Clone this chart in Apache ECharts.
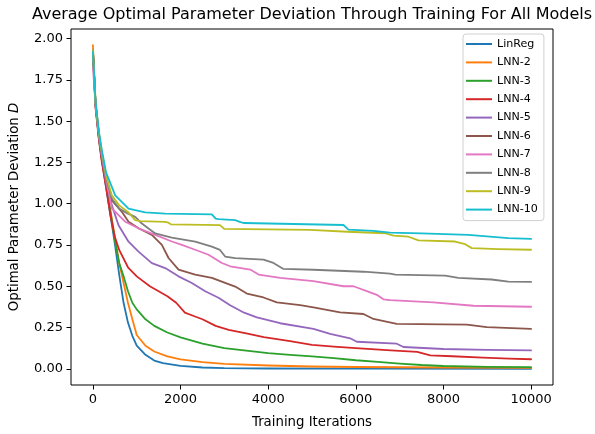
<!DOCTYPE html>
<html>
<head>
<meta charset="utf-8">
<script src="https://cdn.jsdelivr.net/npm/echarts@6/dist/echarts.min.js"></script>
<style>
    html, body { margin: 0; padding: 0; background: #fff; }
    #chart { width: 595px; height: 434px; }
</style>
</head>
<body>
<div id="chart"></div>
<script>
// 模型名称
var names = ['LinReg', 'LNN-2', 'LNN-3', 'LNN-4', 'LNN-5', 'LNN-6', 'LNN-7', 'LNN-8', 'LNN-9', 'LNN-10'];
var colors = ['#1f77b4', '#ff7f0e', '#2ca02c', '#d62728', '#9467bd', '#8c564b', '#e377c2', '#7f7f7f', '#bcbd22', '#17becf'];

// 刻度
var xTicks = [0, 2000, 4000, 6000, 8000, 10000];
var yTicks = [0, 0.25, 0.5, 0.75, 1.0, 1.25, 1.5, 1.75, 2.0];

// 每条曲线 [迭代次数, 偏差]
var linReg = [[0, 1.93], [60, 1.6], [140, 1.39], [200, 1.27], [300, 1.1], [400, 0.93], [500, 0.76], [600, 0.57],
    [700, 0.4], [800, 0.28], [900, 0.2], [1000, 0.14], [1200, 0.085], [1400, 0.05], [1600, 0.035], [2000, 0.018],
    [2500, 0.008], [3000, 0.004], [4000, 0.002], [6000, 0.001], [10000, 0]];
var lnn2 = [[0, 1.96], [60, 1.62], [140, 1.41], [200, 1.29], [300, 1.12], [400, 0.96], [500, 0.8], [600, 0.64],
    [700, 0.52], [800, 0.4], [900, 0.3], [1000, 0.205], [1200, 0.14], [1400, 0.105], [1700, 0.075], [2000, 0.057],
    [2500, 0.04], [3000, 0.03], [4000, 0.02], [5000, 0.014], [6000, 0.011], [8000, 0.008], [10000, 0.006]];
var lnn3 = [[0, 1.93], [60, 1.6], [140, 1.39], [200, 1.28], [300, 1.12], [400, 0.95], [500, 0.78], [600, 0.64],
    [700, 0.56], [800, 0.47], [900, 0.4], [1000, 0.36], [1200, 0.3], [1400, 0.26], [1700, 0.22], [2000, 0.19],
    [2500, 0.152], [3000, 0.125], [3500, 0.11], [4000, 0.095], [4500, 0.085], [5000, 0.075], [5500, 0.065],
    [6000, 0.052], [6500, 0.042], [7000, 0.032], [7500, 0.023], [8000, 0.017], [9000, 0.012], [10000, 0.01]];
var lnn4 = [[0, 1.92], [60, 1.58], [140, 1.38], [200, 1.26], [300, 1.1], [400, 0.93], [500, 0.8], [600, 0.72],
    [800, 0.615], [1000, 0.56], [1300, 0.5], [1700, 0.44], [1900, 0.4], [2100, 0.34], [2300, 0.32], [2500, 0.3],
    [2800, 0.26], [3100, 0.236], [3500, 0.215], [3900, 0.192], [4500, 0.168], [5000, 0.145], [5500, 0.135],
    [6000, 0.125], [6800, 0.112], [7400, 0.102], [7700, 0.082], [8200, 0.076], [8900, 0.068], [9500, 0.062], [10000, 0.058]];
var lnn5 = [[0, 1.93], [60, 1.6], [140, 1.4], [200, 1.29], [300, 1.13], [433, 0.99], [585, 0.87], [813, 0.77],
    [1041, 0.71], [1345, 0.64], [1650, 0.61], [1954, 0.56], [2258, 0.52], [2562, 0.47], [2866, 0.43], [3132, 0.385],
    [3450, 0.34], [3742, 0.312], [4273, 0.276], [5033, 0.242], [5414, 0.212], [5870, 0.185], [6023, 0.164],
    [6935, 0.152], [7087, 0.132], [8000, 0.12], [9000, 0.115], [10000, 0.112]];
var lnn6 = [[0, 1.92], [60, 1.6], [140, 1.41], [200, 1.3], [300, 1.15], [433, 1.02], [661, 0.951], [813, 0.891],
    [1041, 0.851], [1345, 0.811], [1574, 0.751], [1726, 0.671], [1954, 0.601], [2334, 0.571], [2715, 0.551],
    [3018, 0.521], [3247, 0.498], [3513, 0.456], [3893, 0.432], [4197, 0.402], [4730, 0.386], [5033, 0.372],
    [5642, 0.342], [6174, 0.332], [6402, 0.302], [6935, 0.272], [8533, 0.268], [8990, 0.252], [10000, 0.242]];
var lnn7 = [[0, 1.83], [60, 1.6], [140, 1.41], [200, 1.3], [300, 1.15], [433, 0.971], [737, 0.891], [1041, 0.851],
    [1421, 0.811], [1802, 0.771], [2030, 0.751], [2334, 0.721], [2638, 0.691], [2943, 0.641], [3132, 0.621],
    [3590, 0.601], [3780, 0.571], [4273, 0.551], [5033, 0.531], [5718, 0.5], [5946, 0.5], [6250, 0.471],
    [6480, 0.448], [6630, 0.421], [6783, 0.416], [7770, 0.402], [8684, 0.382], [10000, 0.376]];
var lnn8 = [[0, 1.92], [60, 1.6], [140, 1.42], [200, 1.31], [300, 1.16], [433, 1.03], [600, 0.97], [800, 0.94],
    [965, 0.92], [1117, 0.88], [1421, 0.82], [1800, 0.795], [2334, 0.77], [2715, 0.74], [2900, 0.72], [3018, 0.68],
    [3245, 0.67], [3893, 0.661], [4120, 0.641], [4349, 0.605], [5033, 0.6], [6174, 0.588], [6780, 0.576],
    [6900, 0.571], [8040, 0.565], [8340, 0.551], [9100, 0.541], [9480, 0.528], [10000, 0.526]];
var lnn9 = [[0, 1.93], [60, 1.61], [140, 1.42], [200, 1.32], [300, 1.17], [433, 1.05], [600, 0.99], [800, 0.95],
    [965, 0.9], [1080, 0.895], [1650, 0.89], [1720, 0.885], [1780, 0.875], [2900, 0.87], [3000, 0.847],
    [4960, 0.841], [5800, 0.83], [6670, 0.821], [6860, 0.807], [7200, 0.8], [7430, 0.778], [8266, 0.771],
    [8494, 0.755], [8647, 0.731], [9254, 0.725], [10000, 0.721]];
var lnn10 = [[0, 1.92], [60, 1.62], [140, 1.43], [200, 1.33], [300, 1.19], [509, 1.05], [813, 0.97], [1193, 0.947],
    [1650, 0.94], [2715, 0.935], [2800, 0.91], [2866, 0.907], [3245, 0.9], [3350, 0.89], [3450, 0.883],
    [5718, 0.871], [5832, 0.843], [6400, 0.835], [6780, 0.825], [7500, 0.82], [8570, 0.811], [9480, 0.791], [10000, 0.787]];

var allData = [linReg, lnn2, lnn3, lnn4, lnn5, lnn6, lnn7, lnn8, lnn9, lnn10];

(function () {
    var myChart = echarts.init(document.getElementById('chart'));
    var font = 'DejaVu Sans';

    var series = [];
    for (var i = 0; i < names.length; i++) {
        series.push({
            name: names[i],
            type: 'line',
            data: allData[i],
            showSymbol: false,
            symbol: 'none',
            lineStyle: { width: 1.8, color: colors[i], join: 'round', cap: 'round' },
            itemStyle: { color: colors[i] },
            animation: false
        });
    }

    var option = {
        color: colors,
        animation: false,
        textStyle: { fontFamily: font },
        title: {
            text: 'Average Optimal Parameter Deviation Through Training For All Models',
            left: 307,
            textAlign: 'center',
            top: 2,
            textStyle: { fontFamily: font, fontSize: 16, fontWeight: 'normal', color: '#000' }
        },
        grid: {
            left: 70, right: 42, top: 29, bottom: 45,
            show: true, borderColor: '#000', borderWidth: 1, backgroundColor: '#fff'
        },
        legend: {
            data: names,
            orient: 'vertical',
            left: 463, top: 34,
            icon: 'rect',
            itemWidth: 26, itemHeight: 2,
            itemGap: 4.4,
            padding: [3, 6, 4, 3],
            backgroundColor: '#fff',
            borderColor: '#d0d0d0', borderWidth: 1, borderRadius: 3,
            textStyle: { fontFamily: font, fontSize: 11.1, color: '#000', lineHeight: 14 }
        },
        xAxis: {
            type: 'value',
            min: -500, max: 10500,
            name: 'Training Iterations',
            nameLocation: 'middle',
            nameGap: 31,
            nameTextStyle: { fontFamily: font, fontSize: 13.3, color: '#000' },
            axisLine: { show: false, onZero: false },
            axisTick: { show: true, inside: false, length: 4.5, lineStyle: { color: '#000' }, customValues: xTicks },
            axisLabel: {
                customValues: xTicks, fontSize: 13, color: '#000', margin: 8,
                formatter: function (v) { return String(v); }
            },
            splitLine: { show: false }
        },
        yAxis: {
            type: 'value',
            min: -0.098, max: 2.058,
            name: 'Optimal Parameter Deviation {i|D}',
            nameLocation: 'middle',
            nameGap: 50,
            nameTextStyle: {
                fontFamily: font, fontSize: 13.3, color: '#000',
                rich: { i: { fontStyle: 'italic', fontFamily: font, fontSize: 13.3, color: '#000' } }
            },
            axisLine: { show: false, onZero: false },
            axisTick: { show: true, inside: false, length: 4.5, lineStyle: { color: '#000' }, customValues: yTicks },
            axisLabel: {
                customValues: yTicks, fontSize: 13, color: '#000', margin: 8,
                formatter: function (v) { return v.toFixed(2); }
            },
            splitLine: { show: false }
        },
        series: series
    };

    myChart.setOption(option);
})();
</script>
</body>
</html>
